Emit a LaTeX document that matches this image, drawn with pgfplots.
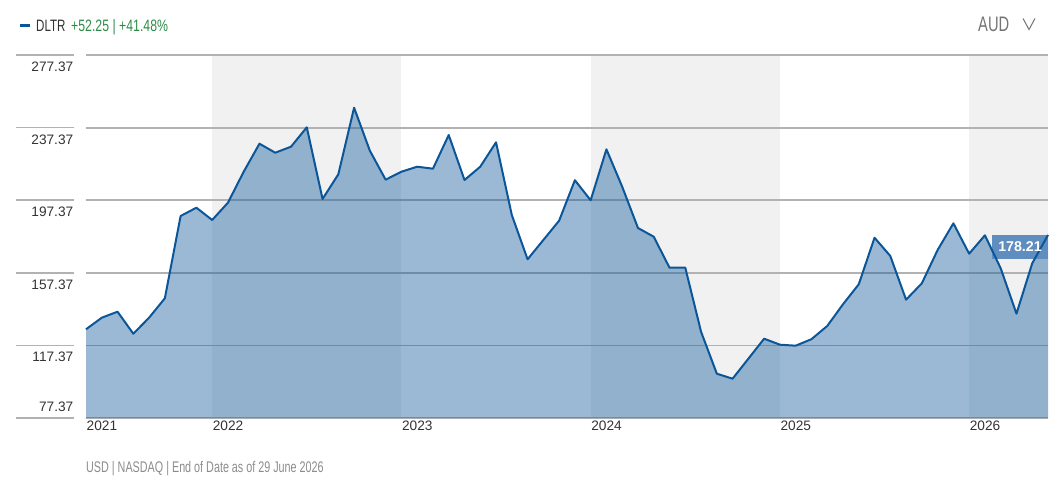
\documentclass[border=0pt]{standalone}
\usepackage{fontspec}
\usepackage{pgfplots}
\usepackage{pgfplotstable}
\pgfplotsset{compat=1.18}
\setmainfont{Liberation Sans}
\newfontfamily\cond[FakeStretch=0.70]{Liberation Sans}
\newfontfamily\condb[FakeStretch=0.745]{Liberation Sans}
\definecolor{linecol}{HTML}{0B5699}
\definecolor{gridcol}{HTML}{B2B2B2}
\definecolor{bandcol}{HTML}{F1F1F1}
\definecolor{tickcol}{HTML}{333333}
\definecolor{upgreen}{HTML}{2E8B47}
\definecolor{flagcol}{HTML}{5F8DC0}
\pgfplotstableread{
m v
0 126.24
1 132.63
2 135.94
3 123.82
4 132.63
5 143.32
6 188.67
7 193.24
8 186.46
9 195.99
10 213.07
11 228.50
12 223.54
13 226.85
14 237.54
15 198.03
16 211.64
17 248.33
18 224.64
19 208.67
20 213.07
21 215.83
22 214.73
23 233.29
24 208.50
25 215.83
26 229.27
27 189.22
28 164.81
29 175.44
30 186.08
31 208.39
32 197.32
33 225.41
34 204.81
35 182.05
36 177.26
37 160.18
38 160.18
39 124.92
40 101.78
41 99.02
42 110.04
43 121.06
44 117.76
45 117.21
46 120.79
47 128.06
48 140.02
49 151.04
50 176.71
51 166.63
52 142.55
53 151.59
54 169.93
55 184.64
56 167.89
57 178.03
58 159.85
59 134.84
60 162.61
61 178.21
}\prices
\begin{document}
\begin{tikzpicture}
\useasboundingbox (0pt,0pt) rectangle (1064pt,485pt);
\begin{axis}[
  at={(86pt,67pt)}, anchor=south west,
  scale only axis, width=962pt, height=363pt,
  xmin=0, xmax=61, ymin=77.37, ymax=277.37,
  clip=false,
  axis line style={draw=none},
  major tick length=0pt,
  xtick={0,8,20,32,44,56},
  xticklabels={2021,2022,2023,2024,2025,2026},
  xticklabel style={anchor=north west, inner xsep=0pt, inner ysep=0pt, yshift=-3pt, xshift=0.5pt, font=\fontsize{13.7pt}{15pt}\selectfont, text=tickcol},
  ytick={117.37,157.37,197.37,237.37,277.37},
  yticklabels={117.37,157.37,197.37,237.37,277.37},
  yticklabel style={anchor=east, inner xsep=0pt, inner ysep=0pt, xshift=-12.5pt, yshift=-11.7pt, font=\fontsize{13.7pt}{15pt}\selectfont, text=tickcol},
  extra y ticks={77.37},
  extra y tick labels={77.37},
  extra y tick style={yticklabel style={yshift=23.4pt}},
]
\addplot[fill=bandcol, draw=none] coordinates {(8,277.37)(20,277.37)} \closedcycle;
\addplot[fill=bandcol, draw=none] coordinates {(32,277.37)(44,277.37)} \closedcycle;
\addplot[fill=bandcol, draw=none] coordinates {(56,277.37)(61,277.37)} \closedcycle;
\addplot[gridcol, line width=1.8pt] coordinates {(0,277.37)(61,277.37)};
\addplot[gridcol, line width=1.8pt] coordinates {(0,237.37)(61,237.37)};
\addplot[gridcol, line width=1.8pt] coordinates {(0,197.37)(61,197.37)};
\addplot[gridcol, line width=1.8pt] coordinates {(0,157.37)(61,157.37)};
\addplot[gridcol, line width=1.8pt] coordinates {(0,117.37)(61,117.37)};
\addplot[gridcol, line width=1.8pt] coordinates {(0,77.37)(61,77.37)};
\addplot[fill=linecol, fill opacity=0.41, draw=none] table[x=m,y=v] {\prices} \closedcycle;
\fill[flagcol] (axis cs:57.45,178.2) rectangle (axis cs:61,164.97);
\addplot[color=linecol, line width=2pt, line join=round, mark=none] table[x=m,y=v] {\prices};
\end{axis}
% left stubs of the gridlines
\foreach \yy in {55,127.6,200.2,272.8,345.4,418}{
  \draw[gridcol, line width=1.8pt] (16pt,485pt-\yy pt) -- (74pt,485pt-\yy pt);
}
% value flag text
\node[text=white, font=\fontsize{14.2pt}{16pt}\selectfont\bfseries, anchor=center] at (1020pt,238pt) {178.21};
% legend
\draw[linecol, line width=3pt] (20pt,459pt) -- (30pt,459pt);
\node[anchor=base west, inner sep=0pt, text=tickcol, font=\fontsize{16.5pt}{18pt}\selectfont\cond] at (36pt,453pt) {DLTR};
\node[anchor=base west, inner sep=0pt, text=upgreen, font=\fontsize{16.5pt}{18pt}\selectfont\condb] at (71pt,453pt) {+52.25 | +41.48\%};
% currency selector
\node[anchor=west, inner sep=0pt, text=black!55, font=\fontsize{21pt}{23pt}\selectfont\cond] at (978pt,461pt) {AUD};
\draw[black!55, line width=1pt] (1023pt,466.5pt) -- (1029pt,455.5pt) -- (1035pt,466.5pt);
% footnote
\node[anchor=west, inner sep=0pt, text=black!45, font=\fontsize{15.4pt}{17pt}\selectfont\cond] at (86pt,16pt) {USD | NASDAQ | End of Date as of 29 June 2026};
\end{tikzpicture}
\end{document}
